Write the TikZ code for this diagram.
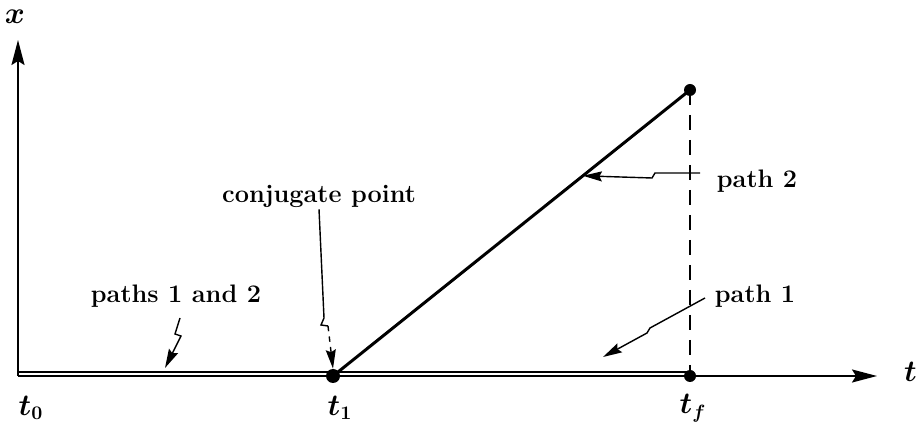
\documentclass[tikz,border=0pt]{standalone}
\usetikzlibrary{arrows.meta, positioning, calc}
\tikzset{
    % Axis and path styles
    axis/.style={
        -{Stealth[length=0.5cm, width=0.26cm, inset=0.08cm]},
        line width=1.1pt
    },
    pathline/.style={
        line width=1.7pt
    },
    guide/.style={
        line width=1.1pt,
        dash pattern=on 0.3cm off 0.2cm
    },
    % Label pointers with a small kink
    pointer/.style={
        -{Stealth[length=0.38cm, width=0.2cm, inset=0.05cm]},
        line width=0.8pt
    },
    dot/.style={
        circle,
        fill,
        inner sep=0pt,
        minimum size=0.24cm
    },
    lbl/.style={
        font=\fontsize{14.4}{18}\selectfont\bfseries,
        inner sep=1pt
    },
    mlbl/.style={
        font=\fontsize{16}{20}\selectfont\boldmath,
        inner sep=1pt
    }
}

\begin{document}
\begin{tikzpicture}
    \useasboundingbox (0,0) rectangle (18.36,8.52);

    \coordinate (O) at (0.36,1.0);
    \coordinate (xtip) at (17.54,1.0);
    \coordinate (ytip) at (0.36,7.72);
    \coordinate (T1) at (6.66,1.0);
    \coordinate (Tf) at (13.8,1.0);
    \coordinate (Top) at (13.8,6.72);

    % axes
    \draw[axis] (O) -- (xtip);
    \draw[axis] (O) -- (ytip);
    \draw[line width=0.8pt] ($(O)+(0,0.08)$) -- ($(Tf)+(0,0.08)$);

    % paths
    \draw[pathline] (T1) -- (Top);
    \draw[guide] (Top) -- (Tf);

    \node[dot, minimum size=0.28cm] (t1dot) at (T1) {};
    \node[dot] (tfdot) at (Tf) {};
    \node[dot] (topdot) at (Top) {};

    % labels
    \node[mlbl] (xlbl) at (0.3,8.18) {$x$};
    \node[mlbl, anchor=west] (tlbl) at (18.04,1.08) {$t$};
    \node[mlbl] (t0lbl) at (0.62,0.36) {$t_0$};
    \node[mlbl] (t1lbl) at (6.8,0.36) {$t_1$};
    \node[mlbl] (tflbl) at (13.86,0.36) {$t_f$};

    \node[lbl] (cp) at (6.38,4.6) {conjugate point};
    \node[lbl] (p12) at (3.52,2.6) {paths 1 and 2};
    \node[lbl] (p2) at (15.14,4.9) {path 2};
    \node[lbl] (p1) at (15.1,2.6) {path 1};

    \coordinate (p2end) at ($(T1)!0.7!(Top)$);

    % pointers
    \draw[line width=0.8pt] (cp.south) -- (6.48,2.16) -- (6.42,2.02) -- (6.56,2.0);
    \draw[pointer, dashed] (6.56,2.0) -- (t1dot.north);
    \draw[pointer] (3.6,2.16) -- (3.5,1.84) -- (3.62,1.8) -- (3.3,1.16);
    \draw[pointer] (14.0,5.06) -- (13.1,5.06) -- (13.04,4.96) -- (p2end);
    \draw[pointer] (14.1,2.56) -- (13.0,1.96) -- (12.94,1.86) -- (12.06,1.38);
\end{tikzpicture}
\end{document}
